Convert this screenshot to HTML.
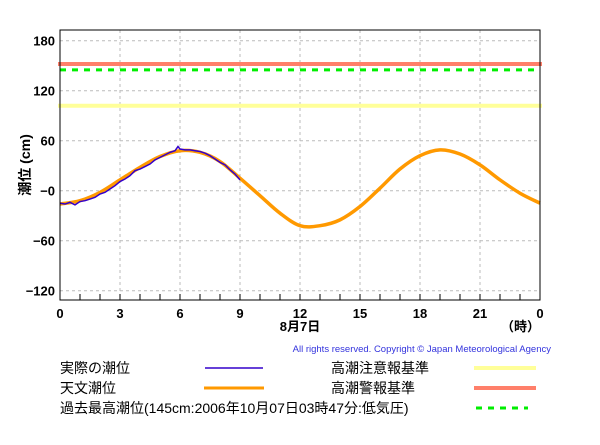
<!DOCTYPE html>
<html><head><meta charset="utf-8"><style>
body{margin:0;background:#fff;width:600px;height:440px;overflow:hidden;font-family:"Liberation Sans","Noto Sans CJK JP",sans-serif}
svg text{font-family:"Liberation Sans","Noto Sans CJK JP",sans-serif}
</style></head><body>
<svg id="chart" width="600" height="440" xmlns="http://www.w3.org/2000/svg">
<g id="grid"></g>
<g id="marks"></g>
<g id="axes"></g>
<text transform="translate(30,165) rotate(-90)" text-anchor="middle" font-size="14" font-weight="bold">潮位 (cm)</text>
<text x="300" y="331" text-anchor="middle" font-size="13" font-weight="bold">8月7日</text>
<text x="540" y="331" text-anchor="end" font-size="13" font-weight="bold">（時）</text>
<text x="551" y="352" text-anchor="end" font-size="9.5" fill="#3333dd">All rights reserved. Copyright © Japan Meteorological Agency</text>
<g font-size="14">
<text x="60" y="373">実際の潮位</text>
<line x1="205" y1="368" x2="263" y2="368" stroke="#3300cc" stroke-width="1.5"/>
<text x="60" y="393">天文潮位</text>
<line x1="204" y1="388" x2="264" y2="388" stroke="#ff9900" stroke-width="3"/>
<text x="60" y="413">過去最高潮位(145cm:2006年10月07日03時47分:低気圧)</text>
<line x1="476" y1="408" x2="528" y2="408" stroke="#00ee00" stroke-width="3" stroke-dasharray="6,6"/>
<text x="331" y="373">高潮注意報基準</text>
<line x1="474" y1="368" x2="536" y2="368" stroke="#ffff99" stroke-width="4"/>
<text x="331" y="393">高潮警報基準</text>
<line x1="474" y1="388" x2="536" y2="388" stroke="#ff7f6a" stroke-width="4"/>
</g>
</svg>
<script>
const xTicks=[0,3,6,9,12,15,18,21,24];
const xTickLabels=["0","3","6","9","12","15","18","21","0"];
const yTicks=[180,120,60,0,-60,-120];
const yTickLabels=["180","120","60","−0","−60","−120"];
const astroHours=[0,1,2,3,4,5,6,7,8,9,10,11,12,13,14,15,16,17,18,19,20,21,22,23,24];
const astroValues=[-16,-12,-2,13,28,41,48,46,35,15,-6,-27,-42,-42,-35,-19,3,26,42,49,44,31,13,-3,-15];
const obsHours=[0,0.25,0.5,0.75,1,1.25,1.5,1.75,2,2.25,2.5,2.75,3,3.25,3.5,3.75,4,4.25,4.5,4.75,5,5.25,5.5,5.75,5.9,6,6.25,6.5,6.75,7,7.25,7.5,7.75,8,8.25,8.5,8.75,9];
const obsValues=[-15,-16,-14,-17,-13,-12,-10,-8,-4,-2,2,6,11,14,18,24,26,29,32,37,40,43,46,48,53,50,49,49,48,47,45,42,38,34,31,25,20,13];
const cautionLevel=102, warningLevel=152, recordLevel=145;
const X0=60,X1=540,Y0=30,Y1=300;
const xs=h=>X0+(h/24)*(X1-X0);
const ys=v=>190.7-v*50/60;
const NS="http://www.w3.org/2000/svg";
function mk(tag,attrs,parent){const e=document.createElementNS(NS,tag);for(const k in attrs)e.setAttribute(k,attrs[k]);parent.appendChild(e);return e;}
const grid=document.getElementById('grid'),axes=document.getElementById('axes'),marks=document.getElementById('marks');
xTicks.forEach((t,i)=>{
 if(i>0&&i<xTicks.length-1){const g=mk('line',{x1:xs(t),x2:xs(t),y1:Y0,y2:Y1,stroke:'#bbb','stroke-dasharray':'3,3'},grid);
 
 }
 const tx=mk('text',{x:xs(t),y:Y1+18,'text-anchor':'middle','font-size':13,'font-weight':'bold'},axes);tx.textContent=xTickLabels[i];
 
 
});
for(let h=1;h<24;h++){const m=mk('line',{x1:xs(h),x2:xs(h),y1:Y1,y2:Y1-6,stroke:'#000'},axes);
 
 }
yTicks.forEach((t,i)=>{
 const g=mk('line',{x1:X0,x2:X1,y1:ys(t),y2:ys(t),stroke:'#bbb','stroke-dasharray':'3,3'},grid);
 
 
 const tx=mk('text',{x:55,y:ys(t)+5,'text-anchor':'end','font-size':13,'font-weight':'bold'},axes);tx.textContent=yTickLabels[i];
 
 
});
const fr=mk('rect',{x:X0,y:Y0,width:X1-X0,height:Y1-Y0,fill:'none',stroke:'#000'},axes);


const c=mk('line',{x1:X0-2,x2:X1+2,y1:ys(cautionLevel),y2:ys(cautionLevel),stroke:'#ffff99','stroke-width':4},marks);


const w=mk('line',{x1:X0-2,x2:X1+2,y1:ys(warningLevel),y2:ys(warningLevel),stroke:'#ff7f6a','stroke-width':4},marks);


const r=mk('line',{x1:X0,x2:X1,y1:ys(recordLevel),y2:ys(recordLevel),stroke:'#00ee00','stroke-width':3,'stroke-dasharray':'6,6'},marks);


function smooth(hs,vs){const p=hs.map((h,i)=>[xs(h),ys(vs[i])]);let d='M'+p[0];for(let i=0;i<p.length-1;i++){const p0=p[i-1]||p[i],p1=p[i],p2=p[i+1],p3=p[i+2]||p2;d+=' C'+(p1[0]+(p2[0]-p0[0])/6)+','+(p1[1]+(p2[1]-p0[1])/6)+' '+(p2[0]-(p3[0]-p1[0])/6)+','+(p2[1]-(p3[1]-p1[1])/6)+' '+p2;}return d;}
const a=mk('path',{d:smooth(astroHours,astroValues),fill:'none',stroke:'#ff9900','stroke-width':3.5},marks);


const o=mk('polyline',{points:obsHours.map((h,i)=>xs(h)+','+ys(obsValues[i])).join(' '),fill:'none',stroke:'#3300cc','stroke-width':1.5},marks);


</script>
</body></html>
